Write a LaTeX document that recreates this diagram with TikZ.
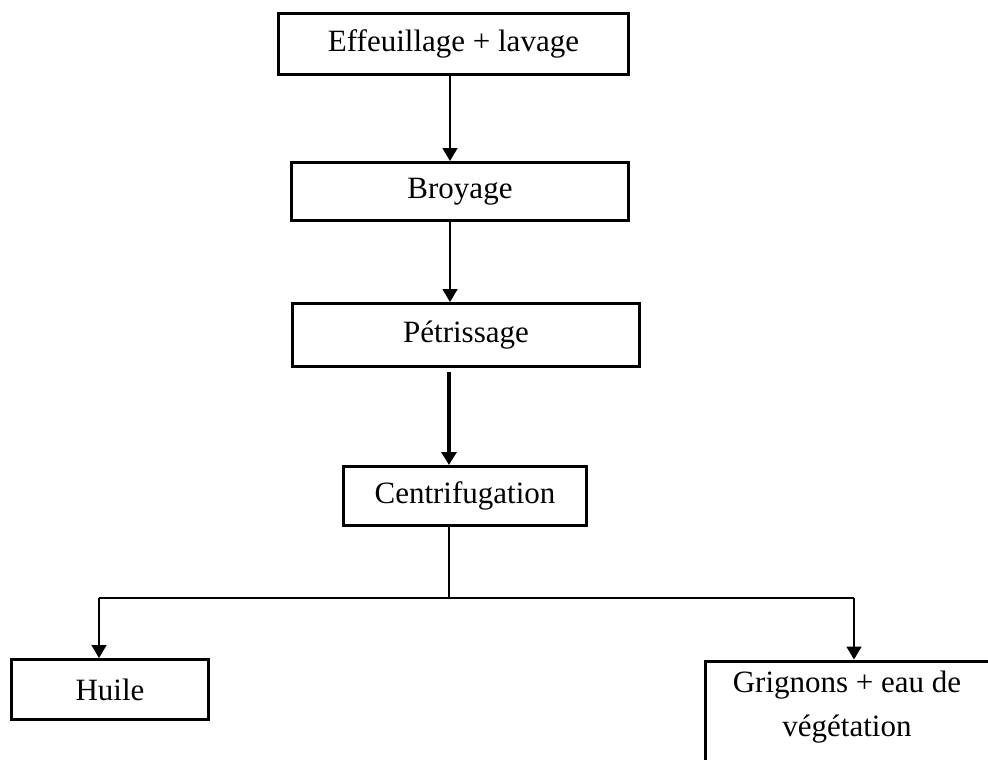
\documentclass[tikz,border=0pt]{standalone}
\usepackage{fontspec}
\setmainfont{Liberation Serif}
\usetikzlibrary{arrows.meta}
\begin{document}
\begin{tikzpicture}[x=1pt,y=-1pt,
  box/.style={draw, line width=3pt, rectangle, inner sep=0pt, font=\fontsize{31}{44}\selectfont},
  txt/.style={inner sep=0pt, align=center, font=\fontsize{31}{44}\selectfont},
  conn/.style={line width=1.5pt},
  arr/.style={conn, -{Triangle[length=13pt,width=15pt]}}
]
\useasboundingbox (0,0) rectangle (988,760);
\node[box, minimum width=350pt, minimum height=61pt] (a) at (453.5,44) {Effeuillage + lavage};
\node[box, minimum width=337pt, minimum height=58pt] (b) at (460,191.5) {Broyage};
\node[box, minimum width=347pt, minimum height=63pt] (p) at (466,335) {Pétrissage};
\node[box, minimum width=243pt, minimum height=59pt] (c) at (465,496) {Centrifugation};
\node[box, minimum width=197pt, minimum height=60pt] (h) at (110,689.5) {Huile};
\node[box, minimum width=302pt, minimum height=130pt, anchor=north west] (gbox) at (704,659.5) {};
\node[txt, anchor=north] (g) at (847,671) {Grignons + eau de\\végétation};
\coordinate (s) at (450,0);
\coordinate (t) at (449,372);
\coordinate (split) at (449,598);
\coordinate (hl) at (99,598);
\coordinate (hr) at (854,598);
\draw[arr] (a.south -| s) -- (b.north -| s);
\draw[arr] (b.south -| s) -- (p.north -| s);
\draw[arr, line width=3.2pt] (t) -- (t |- c.north);
\draw[conn] (c.south -| split) -- (split);
\draw[conn] (hl) -- (hr);
\draw[arr] (hl) -- (hl |- h.north);
\draw[arr] (hr) -- (hr |- gbox.north);
\end{tikzpicture}
\end{document}
